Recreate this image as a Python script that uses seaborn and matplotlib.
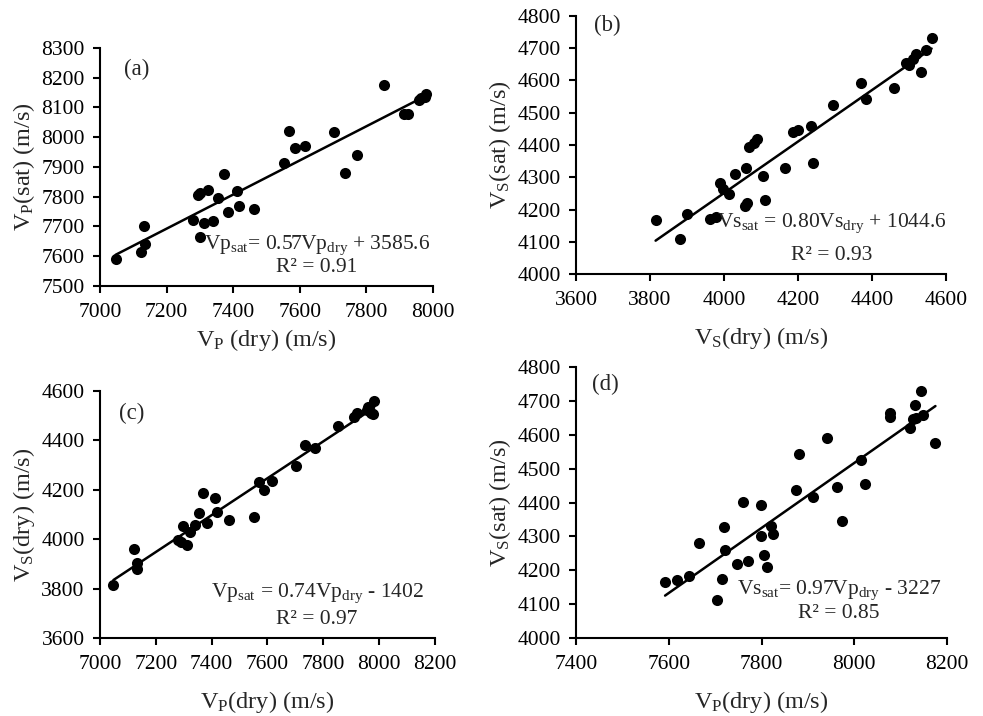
import numpy as np
import matplotlib
matplotlib.use('Agg')
import matplotlib.pyplot as plt
import seaborn as sns

sns.set_style('ticks')
plt.rcParams['font.family'] = ['Liberation Serif', 'DejaVu Serif']
plt.rcParams['mathtext.default'] = 'regular'

# (a) Vp dry vs Vp sat
a_x = [7047, 7124, 7136, 7133, 7278, 7294, 7299, 7325, 7300, 7311, 7340, 7355, 7372, 7384,
       7412, 7417, 7463, 7553, 7569, 7586, 7616, 7704, 7735, 7771, 7854, 7912, 7925, 7957,
       7965, 7977, 7980]
a_y = [7591, 7613, 7641, 7703, 7722, 7806, 7812, 7823, 7664, 7713, 7717, 7797, 7876, 7748,
       7818, 7769, 7759, 7913, 8022, 7963, 7972, 8016, 7879, 7941, 8176, 8079, 8079, 8124,
       8131, 8134, 8145]

# (b) Vs dry vs Vs sat
b_x = [3815, 3881, 3899, 3962, 3978, 3989, 3998, 4014, 4030, 4057, 4063, 4059, 4068, 4082,
       4088, 4106, 4111, 4165, 4187, 4201, 4234, 4240, 4294, 4370, 4384, 4460, 4492, 4501,
       4512, 4518, 4532, 4545, 4561]
b_y = [4166, 4110, 4185, 4172, 4178, 4283, 4265, 4247, 4310, 4211, 4219, 4329, 4394, 4405,
       4419, 4304, 4229, 4329, 4441, 4446, 4458, 4345, 4525, 4593, 4544, 4577, 4655, 4649,
       4668, 4683, 4625, 4694, 4733]

# (c) Vp dry vs Vs dry
c_x = [7048, 7123, 7131, 7134, 7278, 7292, 7298, 7312, 7324, 7340, 7356, 7370, 7385, 7412,
       7420, 7463, 7552, 7569, 7588, 7617, 7702, 7734, 7772, 7854, 7910, 7922, 7955, 7961,
       7970, 7979, 7982]
c_y = [3814, 3962, 3881, 3904, 3996, 3989, 4054, 3976, 4030, 4059, 4107, 4188, 4064, 4165,
       4111, 4077, 4088, 4232, 4199, 4236, 4296, 4381, 4370, 4458, 4493, 4509, 4523, 4536,
       4509, 4505, 4561]

# (d) Vp sat vs Vs sat
d_x = [7592, 7617, 7643, 7665, 7703, 7715, 7718, 7722, 7748, 7760, 7770, 7798, 7799, 7806,
       7812, 7820, 7824, 7875, 7881, 7911, 7941, 7963, 7974, 8015, 8023, 8076, 8076, 8121,
       8127, 8132, 8134, 8148, 8143, 8175]
d_y = [4165, 4170, 4182, 4281, 4111, 4175, 4327, 4261, 4218, 4401, 4228, 4392, 4302, 4245,
       4210, 4330, 4308, 4438, 4543, 4416, 4591, 4445, 4344, 4525, 4456, 4664, 4653, 4620,
       4647, 4689, 4650, 4659, 4729, 4576]

fig = plt.figure(figsize=(9.83, 7.16), dpi=100)

panels = [
    dict(pos=[0.1017, 0.6006, 0.3388, 0.3324], x=a_x, y=a_y, xlim=(7000, 8000), xstep=200,
         ylim=(7500, 8300), ystep=100, tag='(a)', tagpos=(0.11, 0.908),
         xl='V$_P$ (dry) (m/s)', yl='V$_P$(sat) (m/s)',
         eq='Vp$_{sat}$= 0.57Vp$_{dry}$ + 3585.6', r2='R² = 0.91',
         eqpos=(0.652, 0.172, 0.076), xpad=4, ypad=3),
    dict(pos=[0.586, 0.6173, 0.3764, 0.3604], x=b_x, y=b_y, xlim=(3600, 4600), xstep=200,
         ylim=(4000, 4800), ystep=100, tag='(b)', tagpos=(0.084, 0.965),
         xl='V$_S$(dry) (m/s)', yl='V$_S$(sat) (m/s)',
         eq='Vs$_{sat}$ = 0.80Vs$_{dry}$ + 1044.6', r2='R² = 0.93',
         eqpos=(0.692, 0.198, 0.07), xpad=11, ypad=3),
    dict(pos=[0.1017, 0.1089, 0.3408, 0.345], x=c_x, y=c_y, xlim=(7000, 8200), xstep=200,
         ylim=(3600, 4600), ystep=200, tag='(c)', tagpos=(0.096, 0.911),
         xl='V$_P$(dry) (m/s)', yl='V$_S$(dry) (m/s)',
         eq='Vp$_{sat}$ = 0.74Vp$_{dry}$ - 1402', r2='R² = 0.97',
         eqpos=(0.648, 0.182, 0.073), xpad=11, ypad=3),
    dict(pos=[0.586, 0.1089, 0.3774, 0.3785], x=d_x, y=d_y, xlim=(7400, 8200), xstep=200,
         ylim=(4000, 4800), ystep=100, tag='(d)', tagpos=(0.078, 0.937),
         xl='V$_P$(dry) (m/s)', yl='V$_S$(sat) (m/s)',
         eq='Vs$_{sat}$= 0.97Vp$_{dry}$ - 3227', r2='R² = 0.85',
         eqpos=(0.709, 0.177, 0.092), xpad=11, ypad=3),
]

for p in panels:
    ax = fig.add_axes(p['pos'])
    sns.regplot(x=np.array(p['x']), y=np.array(p['y']), ax=ax, ci=None, color='black',
                scatter_kws={'s': 64, 'alpha': 1, 'linewidths': 0},
                line_kws={'lw': 1.8})
    ax.set_xlim(p['xlim'])
    ax.set_ylim(p['ylim'])
    ax.set_xticks(np.arange(p['xlim'][0], p['xlim'][1] + 1, p['xstep']))
    ax.set_yticks(np.arange(p['ylim'][0], p['ylim'][1] + 1, p['ystep']))
    sns.despine(ax=ax)
    for s in ['left', 'bottom']:
        ax.spines[s].set_linewidth(1.5)
        ax.spines[s].set_color('black')
    ax.tick_params(labelsize=15.5, width=1.5, length=5, colors='black')
    ax.tick_params(axis='x', pad=7)
    ax.tick_params(axis='y', pad=6)
    ax.set_xlabel(p['xl'], fontsize=17.5, labelpad=p['xpad'])
    ax.set_ylabel(p['yl'], fontsize=17.5, labelpad=p['ypad'])
    ax.text(p['tagpos'][0], p['tagpos'][1], p['tag'], transform=ax.transAxes,
            fontsize=16.5, ha='center', va='center')
    ex, ey1, ey2 = p['eqpos']
    ax.text(ex, ey1, p['eq'], transform=ax.transAxes, fontsize=15.5, ha='center', va='center')
    ax.text(ex, ey2, p['r2'], transform=ax.transAxes, fontsize=15.5, ha='center', va='center')

fig.savefig('out.png', dpi=100)
